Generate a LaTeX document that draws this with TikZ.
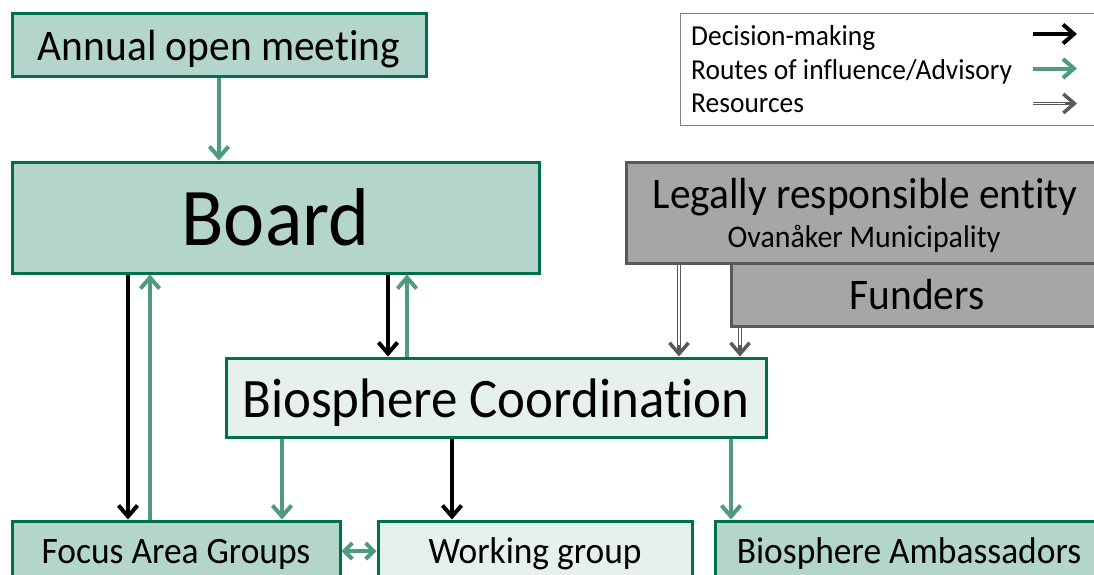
\documentclass[tikz,border=0pt]{standalone}
\usepackage{fontspec}
\setmainfont{Carlito}[Ligatures=NoCommon, FakeStretch=0.95]
\usetikzlibrary{arrows.meta}

\definecolor{boxline}{RGB}{0,112,76}
\definecolor{tealfill}{RGB}{179,213,204}
\definecolor{palefill}{RGB}{230,240,237}
\definecolor{advgreen}{RGB}{80,155,128}
\definecolor{grayfill}{RGB}{166,166,166}
\definecolor{grayline}{RGB}{89,89,89}

\tikzset{
  orgbox/.style={draw=boxline, line width=3pt, fill=tealfill, inner sep=0pt},
  palebox/.style={orgbox, fill=palefill},
  fundbox/.style={draw=grayline, line width=3pt, fill=grayfill, inner sep=0pt},
  legbox/.style={draw=gray, line width=1.2pt, inner sep=0pt},
  legtext/.style={font=\fontsize{28.9}{34}\selectfont, inner sep=0pt, anchor=base west},
  midtext/.style={font=\fontsize{43.6}{52}\selectfont, text height=31pt, text depth=0pt},
  subtext/.style={font=\fontsize{31.5}{38}\selectfont},
  boardtext/.style={font=\fontsize{82}{98}\selectfont, text height=55pt, text depth=0pt},
  coordtext/.style={font=\fontsize{55.7}{67}\selectfont, text height=39pt, text depth=0pt},
  lowtext/.style={font=\fontsize{37.3}{45}\selectfont, text height=24pt, text depth=0pt},
  barb/.tip={Straight Barb[length=11pt,width=19pt]},
  decide/.style={line width=4pt, black, -barb},
  advise/.style={line width=4pt, advgreen, -barb},
  bothways/.style={line width=4pt, advgreen, {Straight Barb[length=8pt,width=16pt]}-{Straight Barb[length=8pt,width=16pt]}},
  resource/.style={draw=grayline, double=white, double distance=1.8pt, line width=1pt, shorten >=5pt},
  restip/.style={draw=grayline, line width=3.5pt, -barb}
}

\begin{document}
\begin{tikzpicture}[x=1pt,y=-1pt]
\useasboundingbox (0,0) rectangle (1094,574);
\clip (0,0) rectangle (1094,574);

% legend
\node[legbox, minimum width=430, minimum height=112, anchor=north west] (legend) at (680,13) {};
\node[legtext] (lgdec) at (691,45) {Decision-making};
\node[legtext] (lgadv) at (691,79) {Routes of influence/Advisory};
\node[legtext] (lgres) at (691,112) {Resources};
\coordinate (dA) at (1033,34);
\coordinate (dB) at (1077,34);
\coordinate (aA) at (1033,68.5);
\coordinate (aB) at (1077,68.5);
\coordinate (rA) at (1033,103.5);
\coordinate (rB) at (1077,103.5);
\coordinate (rC) at (1065,103.5);
\draw[decide] (dA) -- (dB);
\draw[advise] (aA) -- (aB);
\draw[resource] (rA) -- (rB);
\draw[restip] (rC) -- (rB);

% boxes
\node[orgbox, midtext, minimum width=414, minimum height=63] (annual) at (219,44.5) {Annual open meeting};
\node[orgbox, boardtext, minimum width=527, minimum height=111] (board) at (275.5,217.5) {Board};
\node[fundbox, minimum width=478, minimum height=101] (legal) at (865,212.5) {};
\node[midtext, anchor=base] (legaltxt) at (865,208) {Legally responsible entity};
\node[subtext, anchor=base] (legalsub) at (864,247) {Ovanåker Municipality};
\node[fundbox, midtext, text height=29pt, minimum width=372, minimum height=63] (funders) at (917,294.5) {Funders};
\node[palebox, coordtext, minimum width=540, minimum height=79] (coord) at (496,397.5) {Biosphere Coordination};
\node[orgbox, lowtext, minimum width=328, minimum height=60] (focus) at (176,551) {Focus Area Groups};
\node[palebox, lowtext, minimum width=314, minimum height=60] (working) at (535,551) {Working group};
\node[orgbox, lowtext, minimum width=388, minimum height=60] (ambass) at (909,551) {Biosphere Ambassadors};

% connectors
\draw[advise] (annual.south) -- (board.north -| annual.south);
\draw[decide] (board.south -| 128,0) -- (focus.north -| 128,0);
\draw[advise] (focus.north -| 150,0) -- (board.south -| 150,0);
\draw[decide] (board.south -| 388,0) -- (coord.north -| 388,0);
\draw[advise] (coord.north -| 407,0) -- (board.south -| 407,0);
\draw[advise] (coord.south -| 282,0) -- (focus.north -| 282,0);
\draw[decide] (coord.south -| 452,0) -- (working.north -| 452,0);
\draw[advise] (coord.south -| 731,0) -- (ambass.north -| 731,0);
\draw[resource] (legal.south -| 679,0) -- (coord.north -| 679,0);
\draw[restip] ([yshift=12pt]coord.north -| 679,0) -- (coord.north -| 679,0);
\draw[resource] (funders.south -| 740,0) -- (coord.north -| 740,0);
\draw[restip] ([yshift=12pt]coord.north -| 740,0) -- (coord.north -| 740,0);
\draw[bothways] (focus) -- (working);
\end{tikzpicture}
\end{document}
